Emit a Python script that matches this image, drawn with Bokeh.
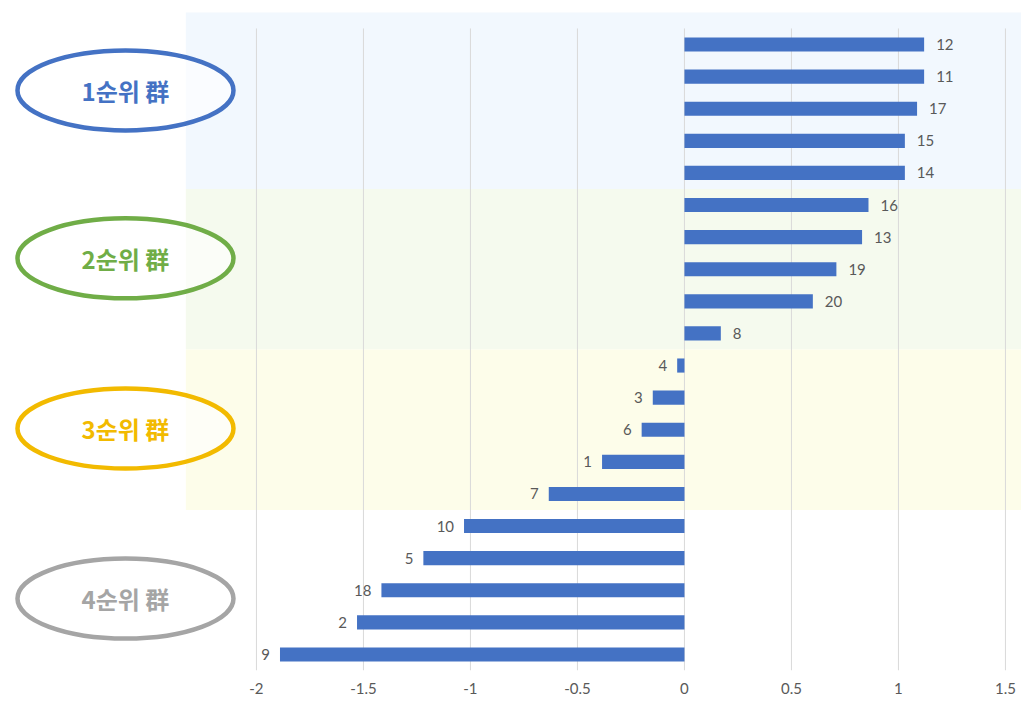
from bokeh.plotting import figure
from bokeh.models import ColumnDataSource, Range1d, FixedTicker
from bokeh.core.properties import value
from bokeh.embed import file_html
from bokeh.resources import INLINE

# ---- data (top to bottom) ----
ids = [12, 11, 17, 15, 14, 16, 13, 19, 20, 8, 4, 3, 6, 1, 7, 10, 5, 18, 2, 9]
vals = [1.12, 1.12, 1.087, 1.03, 1.03, 0.86, 0.83, 0.71, 0.60, 0.17,
        -0.034, -0.148, -0.20, -0.385, -0.634, -1.03, -1.22, -1.416, -1.53, -1.89]
x_ticks = [-2, -1.5, -1, -0.5, 0, 0.5, 1, 1.5]
tick_labels = ["-2", "-1.5", "-1", "-0.5", "0", "0.5", "1", "1.5"]
group_names = ["1순위 群", "2순위 群", "3순위 群", "4순위 群"]
group_colors = ["#4472C4", "#70AD47", "#F2BA00", "#A5A5A5"]
band_colors = ["#F2F8FE", "#F5FAEE", "#FDFDEA"]
group_sizes = [5, 5, 5, 5]

rows = list(range(1, len(ids) + 1))

p = figure(width=1021, height=703, output_backend="svg", toolbar_location=None,
           x_range=Range1d(-3.196, 1.575), y_range=Range1d(20.50, -0.371),
           min_border_left=0, min_border_right=0, min_border_top=0, min_border_bottom=33,
           y_axis_location=None)
p.outline_line_color = None
p.background_fill_color = "white"
p.xgrid.visible = False
p.ygrid.visible = False

# background bands for first three groups
starts, ends = [], []
acc = 0
for s in group_sizes:
    starts.append(acc + 0.5)
    acc += s
    ends.append(acc + 0.5)
band_top = [starts[0] - 0.5] + starts[1:3]
p.quad(left=-2.33, right=2.0, top=band_top, bottom=ends[:3],
       fill_color=band_colors, line_color=None)

# grid lines from ticks
p.segment(x0=x_ticks, x1=x_ticks, y0=0.5, y1=len(ids) + 0.5,
          line_color="#D9D9D9", line_width=1)

# bars
src = ColumnDataSource(dict(
    y=rows, v=vals, lab=[str(i) for i in ids],
    align=["left" if v >= 0 else "right" for v in vals],
    off=[12 if v >= 0 else -10 for v in vals],
))
p.hbar(y="y", left=0, right="v", height=0.44, source=src,
       fill_color="#4472C4", line_color=None)
p.text(x="v", y="y", text="lab", source=src, x_offset="off",
       text_align="align", text_baseline="middle",
       text_font=value("Lato"), text_font_size="15px", text_color="#595959")

# group ellipses and labels
ell_y = [2.43, 7.66, 12.96, 18.26]
ell_x = [-2.612] * 4
p.ellipse(x=ell_x, y=ell_y, width=216, height=80, width_units="screen",
          height_units="screen", fill_color="white", fill_alpha=0.6,
          line_color=group_colors, line_width=4.5)
p.text(x=ell_x, y=ell_y, text=group_names, text_align="center", text_baseline="middle",
       text_font=value("Noto Sans CJK KR"), text_font_size="24px", text_font_style="bold",
       text_color=group_colors)

# axis
p.xaxis.ticker = FixedTicker(ticks=x_ticks)
p.xaxis.major_label_overrides = {t: l for t, l in zip(x_ticks, tick_labels)}
p.xaxis.axis_line_color = None
p.xaxis.major_tick_line_color = None
p.xaxis.minor_tick_line_color = None
p.xaxis.major_tick_out = 0
p.xaxis.major_label_standoff = 12
p.xaxis.major_label_text_font = "Lato"
p.xaxis.major_label_text_font_size = "15px"
p.xaxis.major_label_text_color = "#595959"

open("out.html", "w").write(file_html(p, INLINE))
